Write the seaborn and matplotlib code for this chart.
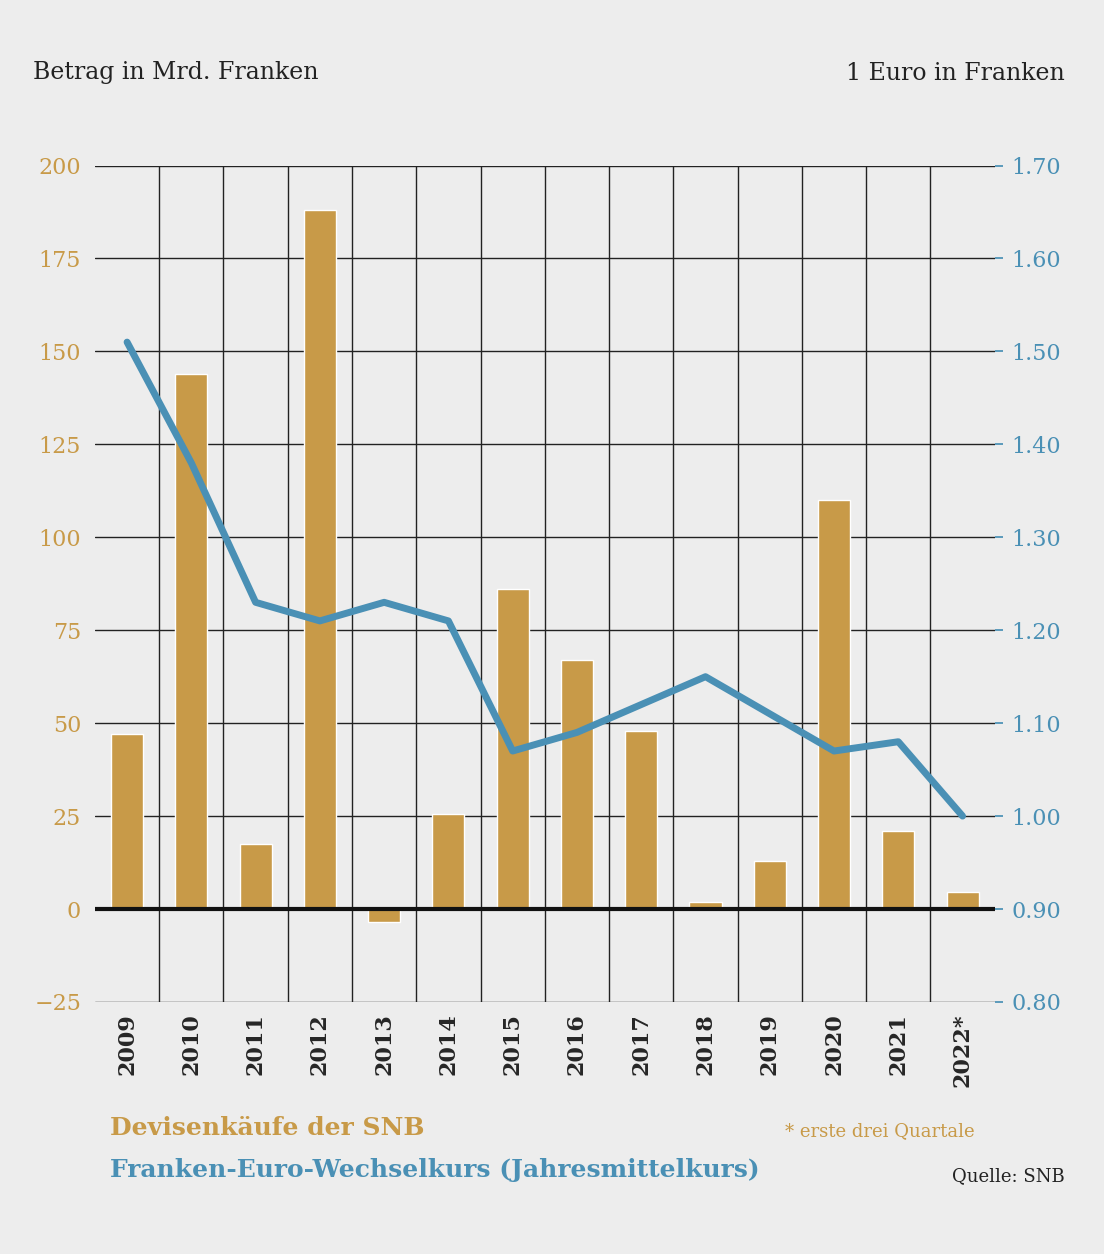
import matplotlib
matplotlib.use("Agg")
import matplotlib.pyplot as plt
import seaborn as sns
import numpy as np
import pandas as pd

years = ["2009","2010","2011","2012","2013","2014","2015","2016","2017","2018","2019","2020","2021","2022*"]
purchases = [47, 144, 17.5, 188, -3.5, 25.5, 86, 67, 48, 2, 13, 110, 21, 4.5]
eurchf = [1.51, 1.38, 1.23, 1.21, 1.23, 1.21, 1.07, 1.09, 1.12, 1.15, 1.11, 1.07, 1.08, 1.00]
left_ticks = [-25, 0, 25, 50, 75, 100, 125, 150, 175, 200]
right_ticks = [0.8, 0.9, 1.0, 1.1, 1.2, 1.3, 1.4, 1.5, 1.6, 1.7]

gold = "#C89A48"
blue = "#4A90B5"
bg = "#EDEDED"

sns.set_theme(style="white")
plt.rcParams['font.family'] = ['DejaVu Serif']

df = pd.DataFrame({"year": years, "buy": purchases, "pos": np.arange(len(years)), "fx": eurchf})

fig = plt.figure(figsize=(11.04, 12.54), dpi=100, facecolor=bg)
ax = fig.add_axes([0.086, 0.201, 0.815, 0.667])
ax.set_facecolor(bg)
sns.barplot(data=df, x="year", y="buy", color=gold, width=0.5, saturation=1, ax=ax, zorder=3)
ax.set_xlim(-0.5, len(years) - 0.5)
ax.set_ylim(-25, 200)
ax.set_yticks(left_ticks)
ax.set_yticklabels([str(t).replace("-", "\u2212") for t in left_ticks], color=gold, fontsize=16)
ax.yaxis.grid(True, color="#222222", lw=1)
for k in range(len(years) - 1):
    ax.axvline(k + 0.5, color="#222222", lw=1, zorder=1)
ax.axhline(0, color="#111111", lw=3, zorder=4)
ax.set_xlabel("")
ax.set_ylabel("")
ax.tick_params(axis="x", labelrotation=90, labelsize=16, length=0, pad=8)
ax.tick_params(axis="y", length=0, pad=10)
for lab in ax.get_xticklabels():
    lab.set_fontweight("bold")
for s in ax.spines.values():
    s.set_visible(False)
ax.set_axisbelow(True)

ax2 = ax.twinx()
sns.lineplot(data=df, x="pos", y="fx", color=blue, lw=5, ax=ax2, zorder=5)
ax2.set_ylim(0.8, 1.7)
ax2.set_yticks(right_ticks)
ax2.set_yticklabels([f"{t:.2f}" for t in right_ticks], color=blue, fontsize=16)
ax2.set_ylabel("")
ax2.tick_params(axis="y", length=6, color=blue, pad=6)
for s in ax2.spines.values():
    s.set_visible(False)
ax2.set_xlim(-0.5, len(years) - 0.5)

fig.text(33/1104, 1-73/1254, "Betrag in Mrd. Franken", fontsize=17, va="center", color="#222222")
fig.text(1065/1104, 1-73/1254, "1 Euro in Franken", fontsize=17, va="center", ha="right", color="#222222")
fig.text(110/1104, 1-1128/1254, "Devisenkäufe der SNB", fontsize=18, fontweight="bold", color=gold, va="center")
fig.text(110/1104, 1-1170/1254, "Franken-Euro-Wechselkurs (Jahresmittelkurs)", fontsize=18, fontweight="bold", color=blue, va="center")
fig.text(975/1104, 1-1131/1254, "* erste drei Quartale", fontsize=13, color=gold, ha="right", va="center")
fig.text(1065/1104, 1-1176/1254, "Quelle: SNB", fontsize=13, color="#222222", ha="right", va="center")

fig.savefig("out.png", dpi=100, facecolor=bg)
